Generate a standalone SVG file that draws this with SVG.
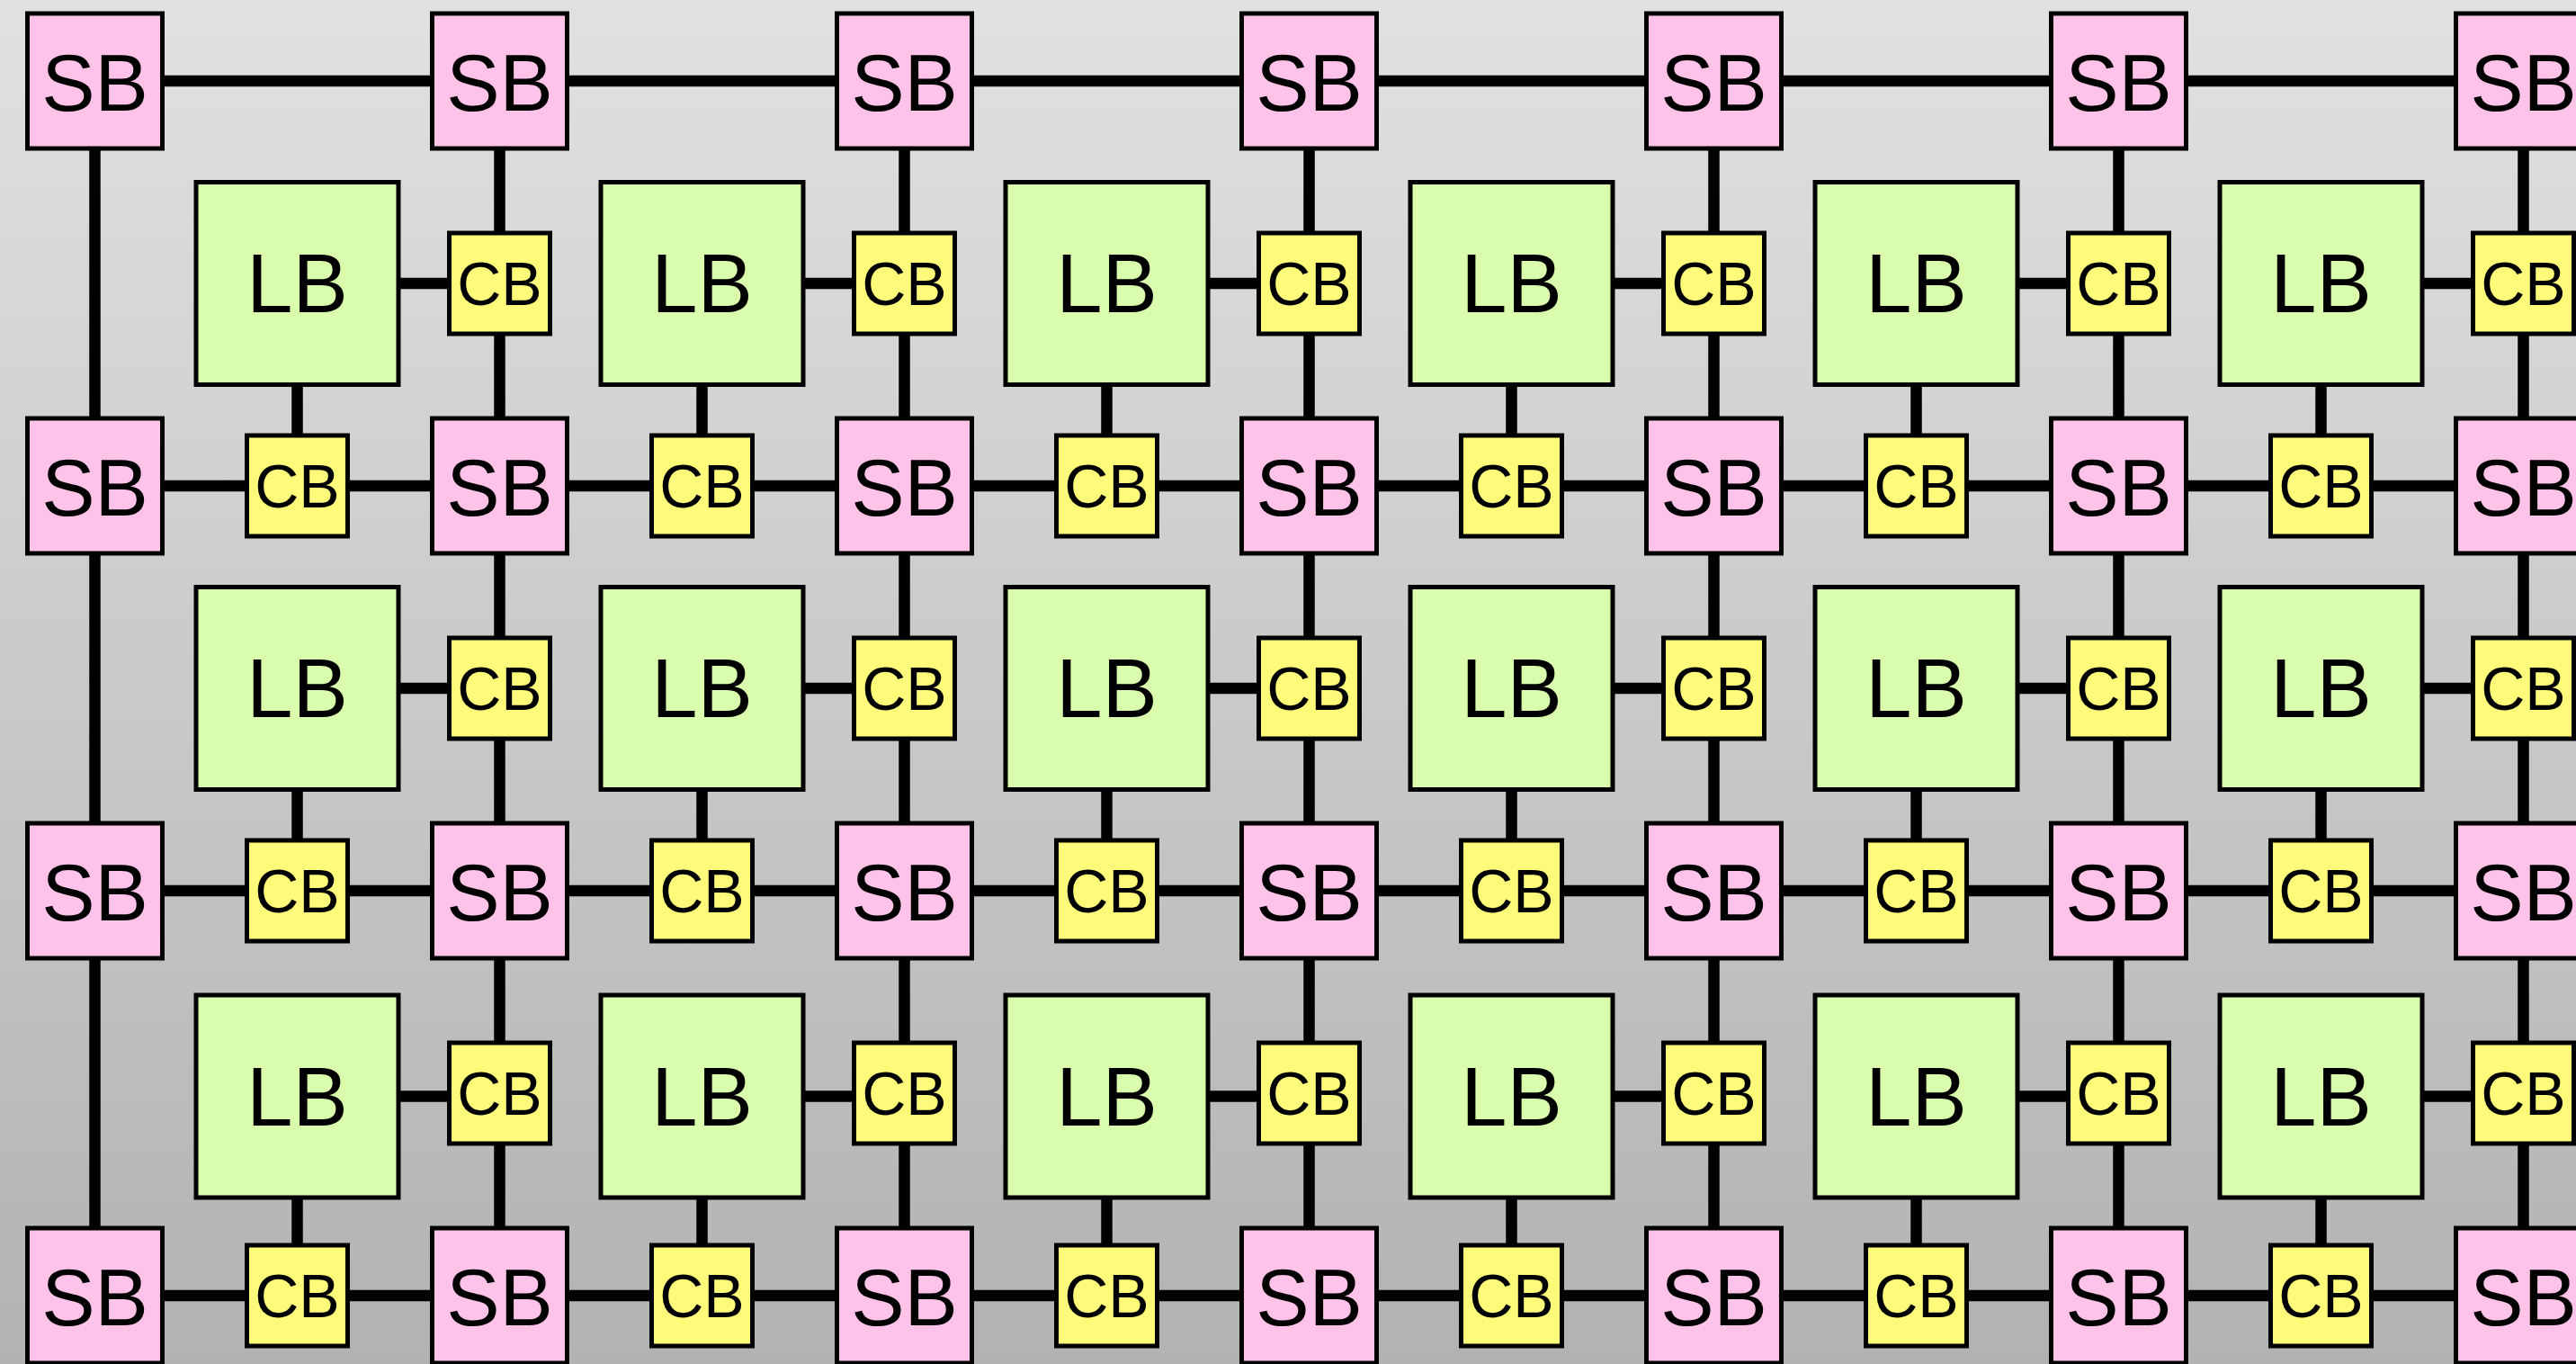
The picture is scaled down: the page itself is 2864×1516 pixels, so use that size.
<svg xmlns="http://www.w3.org/2000/svg" width="2864" height="1516" viewBox="0 0 2864 1516">
<defs>
<linearGradient id="bg" x1="0" y1="0" x2="0" y2="1">
<stop offset="0" stop-color="#e0e2e0"/>
<stop offset="1" stop-color="#b1b3b1"/>
</linearGradient>
<style>
.wire{fill:none;stroke:#000;stroke-width:12.5}
rect.sb{fill:#ffc2e8;stroke:#000;stroke-width:5}
rect.lb{fill:#d9fcad;stroke:#000;stroke-width:5}
rect.cb{fill:#fffb7a;stroke:#000;stroke-width:5}
text{font-family:"Liberation Sans",Arial,Helvetica,sans-serif;text-anchor:middle;fill:#000}
text.sb{font-size:89px}
text.lb{font-size:92px}
text.cb{font-size:68px}
</style>
</defs>
<rect width="2864" height="1516" fill="url(#bg)"/>

<!-- routing channels and block pins -->
<g id="connectors" class="wire">
<path d="M105.5 90H2805.5M105.5 540H2805.5M105.5 990H2805.5M105.5 1440H2805.5"/>
<path d="M105.5 90V1440M555.5 90V1440M1005.5 90V1440M1455.5 90V1440M1905.5 90V1440M2355.5 90V1440M2805.5 90V1440"/>
<path d="M330.5 315h225M330.5 315v225M780.5 315h225M780.5 315v225M1230.5 315h225M1230.5 315v225M1680.5 315h225M1680.5 315v225M2130.5 315h225M2130.5 315v225M2580.5 315h225M2580.5 315v225"/>
<path d="M330.5 765h225M330.5 765v225M780.5 765h225M780.5 765v225M1230.5 765h225M1230.5 765v225M1680.5 765h225M1680.5 765v225M2130.5 765h225M2130.5 765v225M2580.5 765h225M2580.5 765v225"/>
<path d="M330.5 1218.5h225M330.5 1218.5V1440M780.5 1218.5h225M780.5 1218.5V1440M1230.5 1218.5h225M1230.5 1218.5V1440M1680.5 1218.5h225M1680.5 1218.5V1440M2130.5 1218.5h225M2130.5 1218.5V1440M2580.5 1218.5h225M2580.5 1218.5V1440"/>
</g>

<!-- switch boxes -->
<g id="sb-0-0"><rect class="sb" x="30.5" y="15" width="150" height="150"/><text class="sb" x="105.5" y="123">SB</text></g>
<g id="sb-1-0"><rect class="sb" x="480.5" y="15" width="150" height="150"/><text class="sb" x="555.5" y="123">SB</text></g>
<g id="sb-2-0"><rect class="sb" x="930.5" y="15" width="150" height="150"/><text class="sb" x="1005.5" y="123">SB</text></g>
<g id="sb-3-0"><rect class="sb" x="1380.5" y="15" width="150" height="150"/><text class="sb" x="1455.5" y="123">SB</text></g>
<g id="sb-4-0"><rect class="sb" x="1830.5" y="15" width="150" height="150"/><text class="sb" x="1905.5" y="123">SB</text></g>
<g id="sb-5-0"><rect class="sb" x="2280.5" y="15" width="150" height="150"/><text class="sb" x="2355.5" y="123">SB</text></g>
<g id="sb-6-0"><rect class="sb" x="2730.5" y="15" width="150" height="150"/><text class="sb" x="2805.5" y="123">SB</text></g>
<g id="sb-0-1"><rect class="sb" x="30.5" y="465" width="150" height="150"/><text class="sb" x="105.5" y="573">SB</text></g>
<g id="sb-1-1"><rect class="sb" x="480.5" y="465" width="150" height="150"/><text class="sb" x="555.5" y="573">SB</text></g>
<g id="sb-2-1"><rect class="sb" x="930.5" y="465" width="150" height="150"/><text class="sb" x="1005.5" y="573">SB</text></g>
<g id="sb-3-1"><rect class="sb" x="1380.5" y="465" width="150" height="150"/><text class="sb" x="1455.5" y="573">SB</text></g>
<g id="sb-4-1"><rect class="sb" x="1830.5" y="465" width="150" height="150"/><text class="sb" x="1905.5" y="573">SB</text></g>
<g id="sb-5-1"><rect class="sb" x="2280.5" y="465" width="150" height="150"/><text class="sb" x="2355.5" y="573">SB</text></g>
<g id="sb-6-1"><rect class="sb" x="2730.5" y="465" width="150" height="150"/><text class="sb" x="2805.5" y="573">SB</text></g>
<g id="sb-0-2"><rect class="sb" x="30.5" y="915" width="150" height="150"/><text class="sb" x="105.5" y="1023">SB</text></g>
<g id="sb-1-2"><rect class="sb" x="480.5" y="915" width="150" height="150"/><text class="sb" x="555.5" y="1023">SB</text></g>
<g id="sb-2-2"><rect class="sb" x="930.5" y="915" width="150" height="150"/><text class="sb" x="1005.5" y="1023">SB</text></g>
<g id="sb-3-2"><rect class="sb" x="1380.5" y="915" width="150" height="150"/><text class="sb" x="1455.5" y="1023">SB</text></g>
<g id="sb-4-2"><rect class="sb" x="1830.5" y="915" width="150" height="150"/><text class="sb" x="1905.5" y="1023">SB</text></g>
<g id="sb-5-2"><rect class="sb" x="2280.5" y="915" width="150" height="150"/><text class="sb" x="2355.5" y="1023">SB</text></g>
<g id="sb-6-2"><rect class="sb" x="2730.5" y="915" width="150" height="150"/><text class="sb" x="2805.5" y="1023">SB</text></g>
<g id="sb-0-3"><rect class="sb" x="30.5" y="1365" width="150" height="150"/><text class="sb" x="105.5" y="1473">SB</text></g>
<g id="sb-1-3"><rect class="sb" x="480.5" y="1365" width="150" height="150"/><text class="sb" x="555.5" y="1473">SB</text></g>
<g id="sb-2-3"><rect class="sb" x="930.5" y="1365" width="150" height="150"/><text class="sb" x="1005.5" y="1473">SB</text></g>
<g id="sb-3-3"><rect class="sb" x="1380.5" y="1365" width="150" height="150"/><text class="sb" x="1455.5" y="1473">SB</text></g>
<g id="sb-4-3"><rect class="sb" x="1830.5" y="1365" width="150" height="150"/><text class="sb" x="1905.5" y="1473">SB</text></g>
<g id="sb-5-3"><rect class="sb" x="2280.5" y="1365" width="150" height="150"/><text class="sb" x="2355.5" y="1473">SB</text></g>
<g id="sb-6-3"><rect class="sb" x="2730.5" y="1365" width="150" height="150"/><text class="sb" x="2805.5" y="1473">SB</text></g>

<!-- logic blocks -->
<g id="lb-0-0"><rect class="lb" x="218" y="202.5" width="225" height="225"/><text class="lb" x="330.5" y="347">LB</text></g>
<g id="lb-1-0"><rect class="lb" x="668" y="202.5" width="225" height="225"/><text class="lb" x="780.5" y="347">LB</text></g>
<g id="lb-2-0"><rect class="lb" x="1118" y="202.5" width="225" height="225"/><text class="lb" x="1230.5" y="347">LB</text></g>
<g id="lb-3-0"><rect class="lb" x="1568" y="202.5" width="225" height="225"/><text class="lb" x="1680.5" y="347">LB</text></g>
<g id="lb-4-0"><rect class="lb" x="2018" y="202.5" width="225" height="225"/><text class="lb" x="2130.5" y="347">LB</text></g>
<g id="lb-5-0"><rect class="lb" x="2468" y="202.5" width="225" height="225"/><text class="lb" x="2580.5" y="347">LB</text></g>
<g id="lb-0-1"><rect class="lb" x="218" y="652.5" width="225" height="225"/><text class="lb" x="330.5" y="797">LB</text></g>
<g id="lb-1-1"><rect class="lb" x="668" y="652.5" width="225" height="225"/><text class="lb" x="780.5" y="797">LB</text></g>
<g id="lb-2-1"><rect class="lb" x="1118" y="652.5" width="225" height="225"/><text class="lb" x="1230.5" y="797">LB</text></g>
<g id="lb-3-1"><rect class="lb" x="1568" y="652.5" width="225" height="225"/><text class="lb" x="1680.5" y="797">LB</text></g>
<g id="lb-4-1"><rect class="lb" x="2018" y="652.5" width="225" height="225"/><text class="lb" x="2130.5" y="797">LB</text></g>
<g id="lb-5-1"><rect class="lb" x="2468" y="652.5" width="225" height="225"/><text class="lb" x="2580.5" y="797">LB</text></g>
<g id="lb-0-2"><rect class="lb" x="218" y="1106" width="225" height="225"/><text class="lb" x="330.5" y="1250.5">LB</text></g>
<g id="lb-1-2"><rect class="lb" x="668" y="1106" width="225" height="225"/><text class="lb" x="780.5" y="1250.5">LB</text></g>
<g id="lb-2-2"><rect class="lb" x="1118" y="1106" width="225" height="225"/><text class="lb" x="1230.5" y="1250.5">LB</text></g>
<g id="lb-3-2"><rect class="lb" x="1568" y="1106" width="225" height="225"/><text class="lb" x="1680.5" y="1250.5">LB</text></g>
<g id="lb-4-2"><rect class="lb" x="2018" y="1106" width="225" height="225"/><text class="lb" x="2130.5" y="1250.5">LB</text></g>
<g id="lb-5-2"><rect class="lb" x="2468" y="1106" width="225" height="225"/><text class="lb" x="2580.5" y="1250.5">LB</text></g>

<!-- connection boxes on vertical channels -->
<g id="cbv-1-0"><rect class="cb" x="499.5" y="259" width="112" height="112"/><text class="cb" x="555.5" y="339">CB</text></g>
<g id="cbv-2-0"><rect class="cb" x="949.5" y="259" width="112" height="112"/><text class="cb" x="1005.5" y="339">CB</text></g>
<g id="cbv-3-0"><rect class="cb" x="1399.5" y="259" width="112" height="112"/><text class="cb" x="1455.5" y="339">CB</text></g>
<g id="cbv-4-0"><rect class="cb" x="1849.5" y="259" width="112" height="112"/><text class="cb" x="1905.5" y="339">CB</text></g>
<g id="cbv-5-0"><rect class="cb" x="2299.5" y="259" width="112" height="112"/><text class="cb" x="2355.5" y="339">CB</text></g>
<g id="cbv-6-0"><rect class="cb" x="2749.5" y="259" width="112" height="112"/><text class="cb" x="2805.5" y="339">CB</text></g>
<g id="cbv-1-1"><rect class="cb" x="499.5" y="709" width="112" height="112"/><text class="cb" x="555.5" y="789">CB</text></g>
<g id="cbv-2-1"><rect class="cb" x="949.5" y="709" width="112" height="112"/><text class="cb" x="1005.5" y="789">CB</text></g>
<g id="cbv-3-1"><rect class="cb" x="1399.5" y="709" width="112" height="112"/><text class="cb" x="1455.5" y="789">CB</text></g>
<g id="cbv-4-1"><rect class="cb" x="1849.5" y="709" width="112" height="112"/><text class="cb" x="1905.5" y="789">CB</text></g>
<g id="cbv-5-1"><rect class="cb" x="2299.5" y="709" width="112" height="112"/><text class="cb" x="2355.5" y="789">CB</text></g>
<g id="cbv-6-1"><rect class="cb" x="2749.5" y="709" width="112" height="112"/><text class="cb" x="2805.5" y="789">CB</text></g>
<g id="cbv-1-2"><rect class="cb" x="499.5" y="1159" width="112" height="112"/><text class="cb" x="555.5" y="1239">CB</text></g>
<g id="cbv-2-2"><rect class="cb" x="949.5" y="1159" width="112" height="112"/><text class="cb" x="1005.5" y="1239">CB</text></g>
<g id="cbv-3-2"><rect class="cb" x="1399.5" y="1159" width="112" height="112"/><text class="cb" x="1455.5" y="1239">CB</text></g>
<g id="cbv-4-2"><rect class="cb" x="1849.5" y="1159" width="112" height="112"/><text class="cb" x="1905.5" y="1239">CB</text></g>
<g id="cbv-5-2"><rect class="cb" x="2299.5" y="1159" width="112" height="112"/><text class="cb" x="2355.5" y="1239">CB</text></g>
<g id="cbv-6-2"><rect class="cb" x="2749.5" y="1159" width="112" height="112"/><text class="cb" x="2805.5" y="1239">CB</text></g>

<!-- connection boxes on horizontal channels -->
<g id="cbh-0-1"><rect class="cb" x="274.5" y="484" width="112" height="112"/><text class="cb" x="330.5" y="564">CB</text></g>
<g id="cbh-1-1"><rect class="cb" x="724.5" y="484" width="112" height="112"/><text class="cb" x="780.5" y="564">CB</text></g>
<g id="cbh-2-1"><rect class="cb" x="1174.5" y="484" width="112" height="112"/><text class="cb" x="1230.5" y="564">CB</text></g>
<g id="cbh-3-1"><rect class="cb" x="1624.5" y="484" width="112" height="112"/><text class="cb" x="1680.5" y="564">CB</text></g>
<g id="cbh-4-1"><rect class="cb" x="2074.5" y="484" width="112" height="112"/><text class="cb" x="2130.5" y="564">CB</text></g>
<g id="cbh-5-1"><rect class="cb" x="2524.5" y="484" width="112" height="112"/><text class="cb" x="2580.5" y="564">CB</text></g>
<g id="cbh-0-2"><rect class="cb" x="274.5" y="934" width="112" height="112"/><text class="cb" x="330.5" y="1014">CB</text></g>
<g id="cbh-1-2"><rect class="cb" x="724.5" y="934" width="112" height="112"/><text class="cb" x="780.5" y="1014">CB</text></g>
<g id="cbh-2-2"><rect class="cb" x="1174.5" y="934" width="112" height="112"/><text class="cb" x="1230.5" y="1014">CB</text></g>
<g id="cbh-3-2"><rect class="cb" x="1624.5" y="934" width="112" height="112"/><text class="cb" x="1680.5" y="1014">CB</text></g>
<g id="cbh-4-2"><rect class="cb" x="2074.5" y="934" width="112" height="112"/><text class="cb" x="2130.5" y="1014">CB</text></g>
<g id="cbh-5-2"><rect class="cb" x="2524.5" y="934" width="112" height="112"/><text class="cb" x="2580.5" y="1014">CB</text></g>
<g id="cbh-0-3"><rect class="cb" x="274.5" y="1384" width="112" height="112"/><text class="cb" x="330.5" y="1464">CB</text></g>
<g id="cbh-1-3"><rect class="cb" x="724.5" y="1384" width="112" height="112"/><text class="cb" x="780.5" y="1464">CB</text></g>
<g id="cbh-2-3"><rect class="cb" x="1174.5" y="1384" width="112" height="112"/><text class="cb" x="1230.5" y="1464">CB</text></g>
<g id="cbh-3-3"><rect class="cb" x="1624.5" y="1384" width="112" height="112"/><text class="cb" x="1680.5" y="1464">CB</text></g>
<g id="cbh-4-3"><rect class="cb" x="2074.5" y="1384" width="112" height="112"/><text class="cb" x="2130.5" y="1464">CB</text></g>
<g id="cbh-5-3"><rect class="cb" x="2524.5" y="1384" width="112" height="112"/><text class="cb" x="2580.5" y="1464">CB</text></g>
</svg>
